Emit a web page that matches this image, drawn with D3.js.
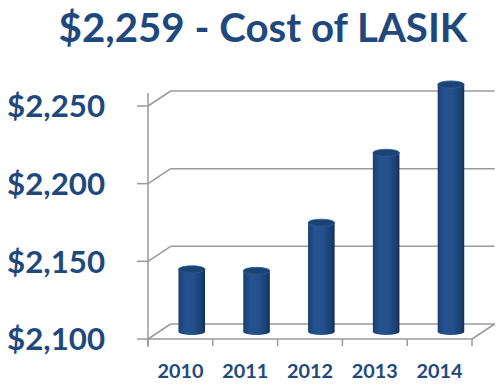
<!DOCTYPE html>
<meta charset="utf-8">
<script src="https://d3js.org/d3.v7.min.js"></script>
<style>
  html, body { margin: 0; padding: 0; background: #fff; }
  text { font-family: 'Lato', 'Open Sans', sans-serif; font-weight: bold; fill: #1f497d; }
</style>
<body>
<div id="chart"></div>
<script>
// data
var years = ["2010", "2011", "2012", "2013", "2014"];
var costs = [2140, 2139, 2170, 2215, 2259];
var yTicks = [2100, 2150, 2200, 2250];
var title = "$2,259 - Cost of LASIK";

var width = 504, height = 389;
var depthX = 22.7, depthY = -15;   // 3d offset of the back wall
var gridColor = "#9a9a9a";

var svg = d3.select("#chart").append("svg")
    .attr("width", width)
    .attr("height", height);

var x = d3.scaleBand()
    .domain(years)
    .range([148, 472]);

var y = d3.scaleLinear()
    .domain([2100, 2250])
    .range([339, 106]);

// fit a text to a given width by changing its font size
function fitWidth(sel, w) {
  sel.each(function() {
    var fs = parseFloat(d3.select(this).style("font-size"));
    var cur = this.getComputedTextLength();
    d3.select(this).style("font-size", (fs * w / cur) + "px");
  });
}

// title
svg.append("text")
    .attr("x", 263)
    .attr("y", 42)
    .attr("text-anchor", "middle")
    .style("font-size", "40px")
    .text(title)
    .call(fitWidth, 409);

// back wall gridlines
var grid = svg.append("g")
    .attr("stroke", gridColor)
    .attr("stroke-width", 1.5)
    .attr("fill", "none");

grid.selectAll("line.back")
  .data(yTicks)
  .enter().append("line")
    .attr("x1", x.range()[0] + depthX)
    .attr("x2", x.range()[1] + depthX)
    .attr("y1", function(d) { return y(d) + depthY; })
    .attr("y2", function(d) { return y(d) + depthY; });

grid.selectAll("line.side")
  .data(yTicks)
  .enter().append("line")
    .attr("x1", x.range()[0])
    .attr("x2", x.range()[0] + depthX)
    .attr("y1", function(d) { return y(d); })
    .attr("y2", function(d) { return y(d) + depthY; });

// floor right edge
grid.append("line")
    .attr("x1", x.range()[1])
    .attr("x2", x.range()[1] + depthX)
    .attr("y1", y(2100))
    .attr("y2", y(2100) + depthY);

// gradient for cylinders
var defs = svg.append("defs");
var grad = defs.append("linearGradient")
    .attr("id", "cyl")
    .attr("x1", "0%").attr("x2", "100%")
    .attr("y1", "0%").attr("y2", "0%");
grad.append("stop").attr("offset", "0%").attr("stop-color", "#1a3f6e");
grad.append("stop").attr("offset", "25%").attr("stop-color", "#245290");
grad.append("stop").attr("offset", "55%").attr("stop-color", "#24508c");
grad.append("stop").attr("offset", "85%").attr("stop-color", "#1b4174");
grad.append("stop").attr("offset", "100%").attr("stop-color", "#132f55");

var rx = x.bandwidth() * 0.205, ry = 3.6;

var bars = svg.selectAll("g.bar")
  .data(years)
  .enter().append("g")
    .attr("class", "bar");

function cx(d) { return x(d) + x.bandwidth() / 2 + depthX / 2; }
function topY(d, i) { return y(costs[i]) + depthY / 2; }
var baseY = y(2100) + depthY / 2;

bars.append("ellipse")
    .attr("cx", cx)
    .attr("cy", baseY)
    .attr("rx", rx)
    .attr("ry", ry)
    .attr("fill", "url(#cyl)");

bars.append("rect")
    .attr("x", function(d) { return cx(d) - rx; })
    .attr("y", topY)
    .attr("width", rx * 2)
    .attr("height", function(d, i) { return baseY - topY(d, i); })
    .attr("fill", "url(#cyl)");

bars.append("ellipse")
    .attr("cx", cx)
    .attr("cy", topY)
    .attr("rx", rx)
    .attr("ry", ry)
    .attr("fill", "#1c4373")
    .attr("stroke", "#2a5a96")
    .attr("stroke-width", 0.8);

// front axes
var axis = svg.append("g")
    .attr("stroke", gridColor)
    .attr("stroke-width", 1.5);

axis.append("line")
    .attr("x1", x.range()[0]).attr("x2", x.range()[0])
    .attr("y1", y(2250) - 13).attr("y2", y(2100) + 8);

axis.append("line")
    .attr("x1", x.range()[0]).attr("x2", x.range()[1])
    .attr("y1", y(2100)).attr("y2", y(2100));

axis.selectAll("line.ytick")
  .data(yTicks)
  .enter().append("line")
    .attr("x1", x.range()[0] - 11).attr("x2", x.range()[0])
    .attr("y1", function(d) { return y(d); })
    .attr("y2", function(d) { return y(d); });

var bounds = years.map(function(d) { return x(d); }).concat([x.range()[1]]);
axis.selectAll("line.xtick")
  .data(bounds)
  .enter().append("line")
    .attr("x1", function(d) { return d; }).attr("x2", function(d) { return d; })
    .attr("y1", y(2100)).attr("y2", y(2100) + 7);

// y labels
svg.selectAll("text.ylab")
  .data(yTicks)
  .enter().append("text")
    .attr("class", "ylab")
    .attr("x", 105)
    .attr("y", function(d) { return y(d); })
    .attr("dy", "0.36em")
    .attr("text-anchor", "end")
    .style("font-size", "30px")
    .text(function(d) { return "$" + d3.format(",")(d); })
    .call(fitWidth, 98);

// x labels
svg.selectAll("text.xlab")
  .data(years)
  .enter().append("text")
    .attr("class", "xlab")
    .attr("x", function(d) { return x(d) + x.bandwidth() / 2; })
    .attr("y", 378)
    .attr("text-anchor", "middle")
    .style("font-size", "18px")
    .text(function(d) { return d; })
    .call(fitWidth, 46);
</script>
</body>
